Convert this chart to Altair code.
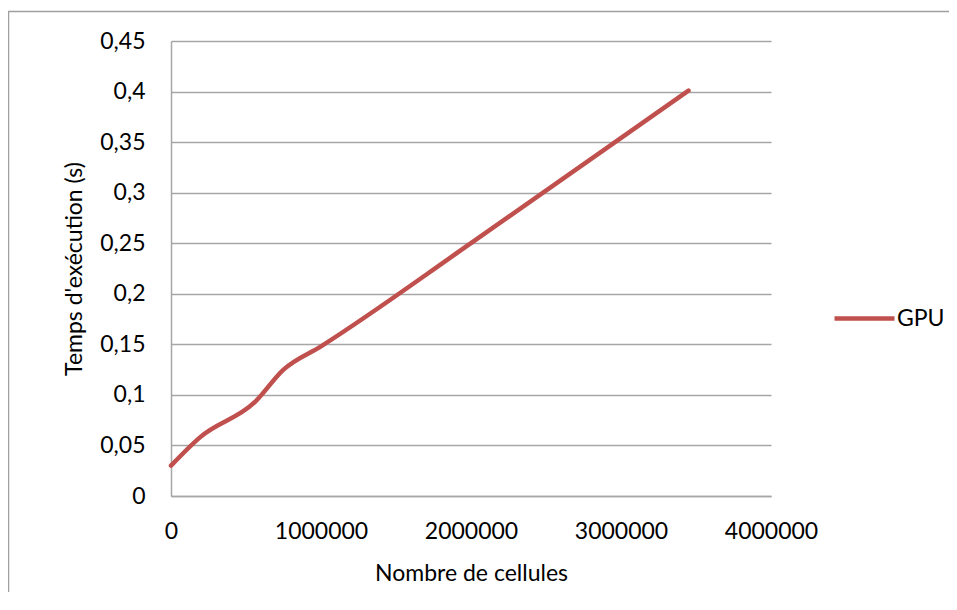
import altair as alt
import pandas as pd

# Data
cells = [0, 193000, 560000, 750000, 1000000, 2000000, 3450000]
times = [0.030, 0.058, 0.093, 0.125, 0.148, 0.250, 0.401]
series = ["GPU"] * len(cells)

y_ticks = [0, 0.05, 0.1, 0.15, 0.2, 0.25, 0.3, 0.35, 0.4, 0.45]
x_ticks = [0, 1000000, 2000000, 3000000, 4000000]

df = pd.DataFrame({"cells": cells, "time": times, "serie": series})

FONT = "Lato"
GRAY = "#A6A6A6"

line = alt.Chart(df).mark_line(
    interpolate="monotone", strokeWidth=4.5, strokeCap="round"
).encode(
    x=alt.X("cells:Q",
            scale=alt.Scale(domain=[0, 4000000], nice=False),
            axis=alt.Axis(values=x_ticks, format="d", grid=False, ticks=False,
                          domainColor=GRAY, domainWidth=1.5,
                          labelFlush=False, labelOverlap=False,
                          labelPadding=24, title="Nombre de cellules",
                          titlePadding=19)),
    y=alt.Y("time:Q",
            scale=alt.Scale(domain=[0, 0.45], nice=False),
            axis=alt.Axis(values=y_ticks,
                          labelExpr="replace(format(datum.value, '.2~f'), '.', ',')",
                          grid=True, gridColor=GRAY, gridWidth=1.5,
                          ticks=False, domainColor=GRAY, domainWidth=1.5,
                          labelFlush=False, labelOverlap=False,
                          labelPadding=26, title="Temps d'exécution (s)",
                          titlePadding=13)),
    color=alt.Color("serie:N",
                    scale=alt.Scale(domain=["GPU"], range=["#C0504D"]),
                    legend=alt.Legend(title=None, orient="none",
                                      legendX=661, legendY=245,
                                      symbolType="stroke", symbolSize=3600,
                                      symbolStrokeWidth=4.5,
                                      labelOffset=0, padding=0)),
)

frame = pd.DataFrame({"a": [0]})
top_edge = alt.Chart(frame).mark_rule(stroke="#A0A0A0", strokeWidth=1.5).encode(
    x=alt.value(-163), x2=alt.value(778), y=alt.value(-29.5),
)
left_edge = alt.Chart(frame).mark_rule(stroke="#A0A0A0", strokeWidth=1.5).encode(
    x=alt.value(-162.5), y=alt.value(-30), y2=alt.value(551),
)

chart = alt.layer(top_edge, left_edge, line).properties(
    width=600, height=455,
    autosize=alt.AutoSizeParams(type="none"),
    padding={"left": 163, "top": 33, "right": 178, "bottom": 96},
).configure_view(stroke=None).configure_axis(
    labelFont=FONT, titleFont=FONT, labelFontSize=23, titleFontSize=23,
    labelColor="#000000", titleColor="#000000", titleFontWeight="normal",
).configure_legend(
    labelFont=FONT, labelFontSize=23, labelColor="#000000",
)

chart.save("out.html", embed_options={"renderer": "svg", "actions": False})
